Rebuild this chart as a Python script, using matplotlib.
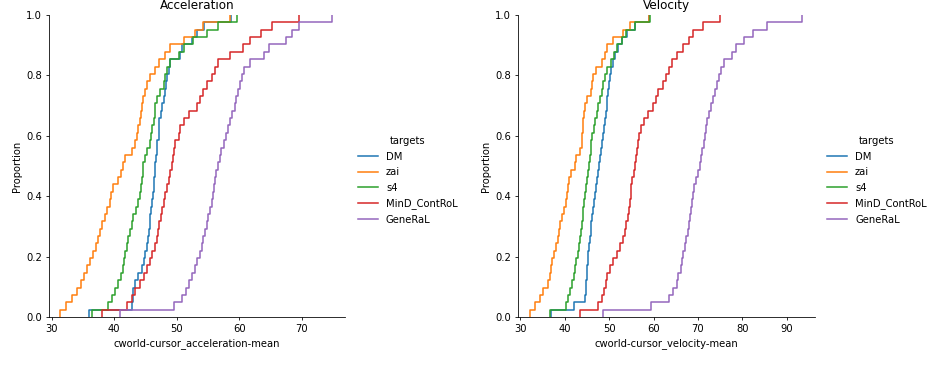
import matplotlib
matplotlib.use("Agg")
import matplotlib.pyplot as plt
import numpy as np

targets = ["DM", "zai", "s4", "MinD_ContRoL", "GeneRaL"]
colors = ["#1f77b4", "#ff7f0e", "#2ca02c", "#d62728", "#9467bd"]

# --- cworld-cursor_acceleration-mean samples ---
accel_DM = [36.0, 42.9, 43.0, 43.1, 43.4, 43.9, 44.4, 44.8, 45.0, 45.2, 45.4, 45.5, 45.7, 45.8,
            45.9, 46.0, 46.2, 46.3, 46.4, 46.5, 46.6, 46.7, 46.8, 46.9, 47.1, 47.2, 47.2, 47.5,
            47.7, 47.9, 48.1, 48.3, 48.4, 48.7, 48.9, 50.5, 50.8, 52.4, 53.2, 54.3, 58.7]
accel_zai = [31.4, 32.3, 33.3, 34.0, 34.7, 35.2, 35.7, 36.2, 36.7, 37.1, 37.5, 37.7, 38.1, 38.6,
             38.9, 39.3, 39.5, 39.9, 40.6, 41.1, 41.5, 41.8, 42.9, 43.4, 43.7, 43.9, 44.1, 44.3,
             44.4, 44.6, 44.9, 45.2, 45.8, 46.6, 47.2, 48.1, 48.9, 51.1, 52.9, 54.2, 58.5]
accel_s4 = [36.5, 39.0, 39.7, 40.2, 40.7, 41.1, 41.4, 41.6, 41.8, 42.1, 42.3, 42.6, 42.9, 43.1,
            43.5, 43.8, 44.1, 44.3, 44.4, 44.6, 44.7, 44.9, 45.2, 45.7, 45.9, 46.0, 46.3, 46.5,
            46.6, 46.8, 47.4, 47.9, 48.1, 48.4, 48.9, 50.3, 51.2, 52.6, 54.8, 56.6, 59.6]
accel_MinD = [38.1, 42.1, 42.9, 43.3, 44.2, 44.8, 45.2, 45.8, 46.1, 46.5, 46.8, 47.0, 47.2, 47.5,
              47.6, 47.9, 48.1, 48.4, 48.7, 48.9, 49.2, 49.4, 49.5, 49.8, 50.3, 50.5, 51.1, 52.0,
              53.2, 53.7, 54.2, 54.8, 55.6, 56.1, 56.6, 58.5, 60.6, 61.7, 63.5, 65.3, 69.5]
accel_GeneRaL = [41.0, 49.5, 50.8, 51.5, 52.0, 52.5, 52.9, 53.3, 53.7, 54.0, 54.2, 54.5, 54.8, 55.0,
                 55.3, 55.6, 55.8, 56.0, 56.1, 56.3, 56.6, 56.9, 57.1, 57.5, 57.9, 58.2, 58.5, 58.8,
                 59.3, 59.5, 59.8, 60.1, 60.4, 60.8, 61.7, 64.0, 64.8, 67.5, 68.5, 69.6, 74.8]

# --- cworld-cursor_velocity-mean samples ---
vel_DM = [37.0, 42.0, 44.5, 44.7, 44.8, 44.9, 45.0, 45.2, 45.3, 45.5, 45.6, 45.9, 46.0, 46.2,
          46.4, 46.6, 46.8, 47.0, 47.3, 47.5, 47.7, 48.0, 48.2, 48.4, 48.6, 48.9, 49.0, 49.2,
          49.4, 49.6, 49.8, 50.0, 50.2, 50.5, 50.8, 51.3, 52.0, 53.0, 54.1, 55.8, 58.9]
vel_zai = [32.1, 33.2, 34.4, 35.1, 36.1, 36.6, 37.0, 37.2, 37.5, 38.1, 38.5, 38.7, 39.0, 39.3,
           39.8, 40.2, 40.4, 40.8, 41.0, 41.5, 42.3, 42.6, 43.4, 43.8, 43.9, 44.0, 44.1, 44.3,
           44.5, 44.9, 45.8, 46.1, 46.4, 47.0, 48.3, 49.0, 49.4, 50.9, 53.2, 54.7, 59.0]
vel_s4 = [36.6, 40.2, 40.8, 41.1, 41.6, 42.0, 42.3, 42.6, 43.0, 43.2, 43.5, 43.7, 43.8, 44.0,
          44.1, 44.4, 44.6, 44.8, 45.0, 45.3, 45.5, 45.6, 45.8, 46.0, 46.2, 46.5, 46.9, 47.2,
          47.5, 47.9, 48.3, 48.6, 49.0, 49.6, 50.5, 51.1, 51.8, 52.8, 53.9, 55.8, 59.2]
vel_MinD = [43.4, 47.5, 48.3, 48.8, 49.2, 49.5, 50.2, 50.9, 51.7, 52.4, 53.2, 53.6, 53.9, 54.2,
            54.5, 54.7, 54.9, 55.0, 55.2, 55.5, 55.8, 56.1, 56.3, 56.5, 56.8, 57.2, 57.8, 58.8,
            59.9, 60.5, 61.1, 62.2, 62.9, 63.5, 64.1, 65.3, 66.7, 67.9, 68.9, 71.2, 75.0]
vel_GeneRaL = [48.5, 59.5, 63.5, 64.4, 65.2, 65.6, 66.1, 66.4, 66.7, 67.1, 67.4, 67.8, 68.0, 68.2,
               68.4, 68.7, 68.9, 69.2, 69.5, 70.0, 70.5, 70.7, 71.0, 71.3, 71.6, 71.8, 72.0, 72.4,
               72.9, 73.3, 73.8, 74.4, 74.8, 75.3, 75.9, 77.6, 78.7, 80.4, 82.5, 85.5, 93.4]

accel_series = [accel_DM, accel_zai, accel_s4, accel_MinD, accel_GeneRaL]
vel_series = [vel_DM, vel_zai, vel_s4, vel_MinD, vel_GeneRaL]

accel_xticks = [30, 40, 50, 60, 70]
vel_xticks = [30, 40, 50, 60, 70, 80, 90]
yticks = [0.0, 0.2, 0.4, 0.6, 0.8, 1.0]

FS = 7.2
plt.rcParams.update({
    "font.family": ["DejaVu Sans"],
    "font.size": FS,
    "axes.linewidth": 0.58,
    "xtick.major.width": 0.58,
    "ytick.major.width": 0.58,
    "xtick.major.size": 2.5,
    "ytick.major.size": 2.5,
    "xtick.major.pad": 2.5,
    "ytick.major.pad": 2.5,
})

fig = plt.figure(figsize=(9.49, 3.68), dpi=100)

panels = [
    dict(pos=[49 / 949, 51 / 368, 296 / 949, 302 / 368], series=accel_series,
         xlim=(29.6, 76.9), xticks=accel_xticks, title="Acceleration",
         xlabel="cworld-cursor_acceleration-mean", leg_x=349 / 949),
    dict(pos=[518 / 949, 51 / 368, 297 / 949, 302 / 368], series=vel_series,
         xlim=(29.45, 96.4), xticks=vel_xticks, title="Velocity",
         xlabel="cworld-cursor_velocity-mean", leg_x=818 / 949),
]

for p in panels:
    ax = fig.add_axes(p["pos"])
    handles = []
    for name, vals, c in zip(targets, p["series"], colors):
        ln = ax.ecdf(np.asarray(vals), color=c, lw=1.1, label=name)
        handles.append(ln)
    ax.set_xlim(*p["xlim"])
    ax.set_ylim(0, 1)
    ax.set_xticks(p["xticks"])
    ax.set_yticks(yticks)
    ax.set_yticklabels([f"{t:.1f}" for t in yticks])
    ax.tick_params(labelsize=FS)
    ax.set_xlabel(p["xlabel"], fontsize=FS, labelpad=3)
    ax.set_ylabel("Proportion", fontsize=FS, labelpad=3)
    ax.set_title(p["title"], fontsize=8.64, pad=4)
    ax.spines["top"].set_visible(False)
    ax.spines["right"].set_visible(False)
    fig.legend(handles=handles, labels=targets, title="targets", loc="center left",
               bbox_to_anchor=(p["leg_x"], 0.51), frameon=False, fontsize=FS,
               title_fontsize=FS, handlelength=2.0, labelspacing=0.55)

fig.savefig("out.png", dpi=100)
